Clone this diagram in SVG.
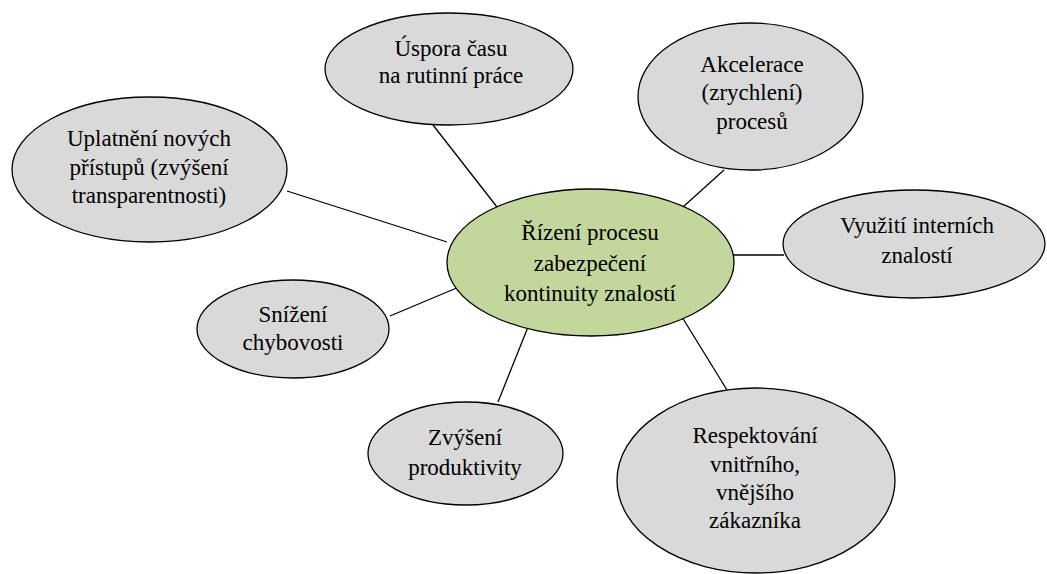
<svg xmlns="http://www.w3.org/2000/svg" width="1047" height="574" viewBox="0 0 1047 574">
<style>
.n{fill:#d9d9d9;stroke:#000;stroke-width:1.3}
.c{fill:#c3d69b;stroke:#000;stroke-width:1.3}
.e{stroke:#000;stroke-width:1.3;fill:none}
.t{font-family:'Liberation Serif','Times New Roman',serif;font-size:23px;fill:#000;text-anchor:middle}
</style>
<rect width="1047" height="574" fill="#fff"/>
<g id="connectors">
<line class="e" x1="433" y1="125" x2="497" y2="207"/>
<line class="e" x1="724" y1="170" x2="683" y2="207"/>
<line class="e" x1="733" y1="255" x2="784" y2="255"/>
<line class="e" x1="287" y1="191" x2="447" y2="242"/>
<line class="e" x1="390" y1="316" x2="459" y2="287"/>
<line class="e" x1="528" y1="327" x2="498" y2="402"/>
<line class="e" x1="682" y1="317" x2="727" y2="390"/>
</g>
<g id="center">
<ellipse class="c" cx="590.5" cy="262.5" rx="143.5" ry="73.5"/>
<text class="t" x="590" y="240">Řízení procesu</text>
<text class="t" x="590" y="271">zabezpečení</text>
<text class="t" x="590" y="301">kontinuity znalostí</text>
</g>
<g id="uspora">
<ellipse class="n" cx="449" cy="69" rx="124" ry="56"/>
<text class="t" x="451" y="56">Úspora času</text>
<text class="t" x="451" y="83">na rutinní práce</text>
</g>
<g id="akcelerace">
<ellipse class="n" cx="750.5" cy="96.5" rx="112.5" ry="73.5"/>
<text class="t" x="752" y="72">Akcelerace</text>
<text class="t" x="752" y="100">(zrychlení)</text>
<text class="t" x="752" y="129">procesů</text>
</g>
<g id="uplatneni">
<ellipse class="n" cx="149.5" cy="169.5" rx="137.5" ry="72.5"/>
<text class="t" x="149" y="146">Uplatnění nových</text>
<text class="t" x="149" y="175">přístupů (zvýšení</text>
<text class="t" x="149" y="203">transparentnosti)</text>
</g>
<g id="vyuziti">
<ellipse class="n" cx="914" cy="244" rx="131" ry="54"/>
<text class="t" x="917" y="233">Využití interních</text>
<text class="t" x="917" y="263">znalostí</text>
</g>
<g id="snizeni">
<ellipse class="n" cx="293" cy="329" rx="96" ry="49"/>
<text class="t" x="293" y="322">Snížení</text>
<text class="t" x="293" y="350">chybovosti</text>
</g>
<g id="zvyseni">
<ellipse class="n" cx="465.5" cy="453.5" rx="97.5" ry="51.5"/>
<text class="t" x="465" y="445">Zvýšení</text>
<text class="t" x="465" y="475">produktivity</text>
</g>
<g id="respektovani">
<ellipse class="n" cx="756" cy="480.5" rx="139" ry="92.5"/>
<text class="t" x="755" y="443">Respektování</text>
<text class="t" x="755" y="472">vnitřního,</text>
<text class="t" x="755" y="500">vnějšího</text>
<text class="t" x="755" y="528">zákazníka</text>
</g>
</svg>
